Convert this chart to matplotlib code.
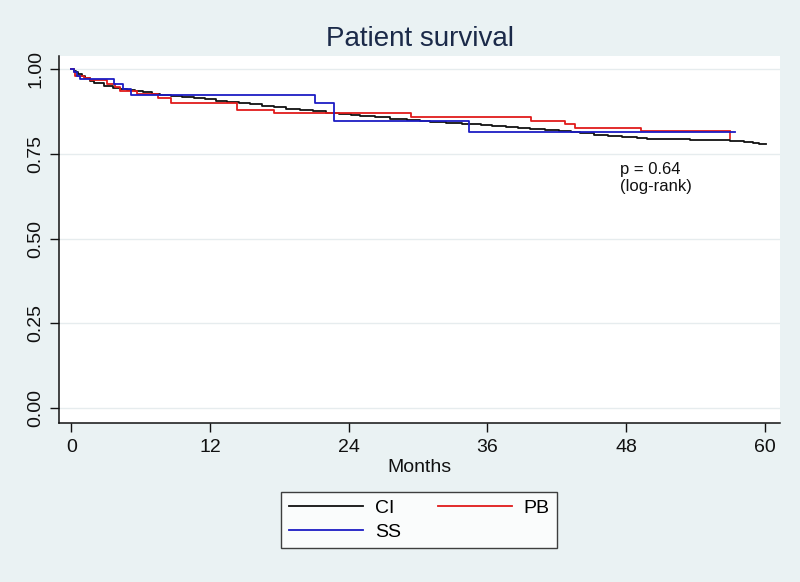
import matplotlib
matplotlib.use("Agg")
import matplotlib.pyplot as plt
from matplotlib.lines import Line2D
from matplotlib.markers import TICKDOWN
import numpy as np

plt.rcParams["font.family"] = ["Liberation Sans", "DejaVu Sans"]

# Kaplan-Meier step data (months, survival)
ci_t = [0, 0.2, 0.4, 0.6, 0.9, 1.2, 1.6, 2.0, 2.8, 3.6, 4.2, 4.8, 5.5, 6.2,
        7.0, 7.7, 8.6, 9.6, 10.6, 11.6, 12.5, 13.5, 14.5, 15.5, 16.5, 17.5,
        18.6, 19.8, 20.9, 22.0, 23.2, 24.2, 25.0, 26.3, 27.6, 29.0, 30.2,
        31.0, 32.4, 33.8, 35.4, 36.4, 37.6, 38.6, 39.7, 41.0, 42.2, 43.2,
        44.0, 45.2, 46.4, 47.6, 48.9, 49.8, 51.5, 53.5, 55.5, 57.0, 58.2,
        59.0, 59.5, 60.1]
ci_s = [1.0, 0.995, 0.99, 0.985, 0.979, 0.973, 0.966, 0.958, 0.950, 0.945,
        0.941, 0.937, 0.934, 0.931, 0.928, 0.925, 0.921, 0.918, 0.914, 0.911,
        0.907, 0.904, 0.900, 0.896, 0.891, 0.887, 0.883, 0.879, 0.876, 0.872,
        0.868, 0.865, 0.862, 0.858, 0.854, 0.850, 0.848, 0.845, 0.842, 0.839,
        0.836, 0.833, 0.830, 0.827, 0.823, 0.820, 0.817, 0.814, 0.811, 0.807,
        0.803, 0.800, 0.798, 0.794, 0.793, 0.792, 0.791, 0.789, 0.786, 0.783,
        0.780, 0.780]

pb_t = [0, 0.2, 0.35, 1.1, 1.6, 3.1, 3.8, 4.2, 5.7, 7.5, 8.6, 14.3, 17.5,
        29.4, 39.8, 42.7, 43.6, 49.3, 57.0]
pb_s = [1.0, 0.99, 0.979, 0.973, 0.968, 0.957, 0.946, 0.936, 0.928, 0.916,
        0.901, 0.880, 0.870, 0.860, 0.848, 0.838, 0.826, 0.816, 0.816]
pb_censor = [57.0]

ss_t = [0, 0.2, 0.5, 0.8, 3.7, 4.5, 5.2, 21.1, 22.7, 34.4, 57.4]
ss_s = [1.0, 0.99, 0.98, 0.970, 0.955, 0.940, 0.923, 0.900, 0.848, 0.815, 0.815]

groups = ["CI", "PB", "SS"]
colors = {"CI": "#111111", "PB": "#e01b1b", "SS": "#1c1cc4"}

x_ticks = [0, 12, 24, 36, 48, 60]
y_ticks = [0.0, 0.25, 0.5, 0.75, 1.0]

BG = "#eaf2f3"

fig = plt.figure(figsize=(8.0, 5.82), dpi=100, facecolor=BG)
ax = fig.add_axes([0.074, 0.273, 0.901, 0.631])
ax.set_facecolor("white")

for y in y_ticks:
    ax.axhline(y, color="#e6ecee", lw=1.0, zorder=0)

lw = 1.3
ax.step(ci_t, ci_s, where="post", color=colors["CI"], lw=lw, zorder=2)
ax.step(pb_t, pb_s, where="post", color=colors["PB"], lw=lw, zorder=3)
pb_cs = [pb_s[np.searchsorted(pb_t, t, side="right") - 1] for t in pb_censor]
ax.plot(pb_censor, pb_cs, ls="none", marker=TICKDOWN, ms=6, mew=1.2,
        color=colors["PB"], zorder=3)
ax.step(ss_t, ss_s, where="post", color=colors["SS"], lw=lw, zorder=4)

ax.set_xlim(-1.04, 61.3)
ax.set_ylim(-0.044, 1.039)
ax.set_xticks(x_ticks)
ax.set_yticks(y_ticks)
ax.set_yticklabels([f"{v:.2f}" for v in y_ticks], rotation=90, va="center")
ax.tick_params(axis="both", direction="out", length=6.5, width=1.0,
               labelsize=14, colors="#111111")
ax.tick_params(axis="x", pad=5)
ax.tick_params(axis="y", pad=4)

for side in ["top", "right"]:
    ax.spines[side].set_visible(False)
for side in ["left", "bottom"]:
    ax.spines[side].set_linewidth(1.1)
    ax.spines[side].set_color("#111111")

ax.set_xlabel("Months", fontsize=14, labelpad=2, color="#111111")
ax.set_title("Patient survival", fontsize=20, color="#1b2a49", pad=7)

ax.text(47.5, 0.725, "p = 0.64\n(log-rank)", fontsize=12, va="top",
        ha="left", linespacing=1.15, color="#111111")

# legend order arranged so row 1 is CI, PB and row 2 is SS
order = ["CI", "SS", "PB"]
handles = [Line2D([], [], color=colors[g], lw=lw) for g in order]
leg = fig.legend(handles, order, loc="center", ncol=2,
                 bbox_to_anchor=(0.524, 0.1065), fontsize=14,
                 frameon=True, fancybox=False, handlelength=3.8,
                 handletextpad=0.6, columnspacing=1.9, labelspacing=0.3,
                 borderpad=0.4)
leg.get_frame().set_edgecolor("#111111")
leg.get_frame().set_linewidth(1.0)
leg.get_frame().set_facecolor("white")

fig.savefig("out.png", dpi=100, facecolor=BG)
